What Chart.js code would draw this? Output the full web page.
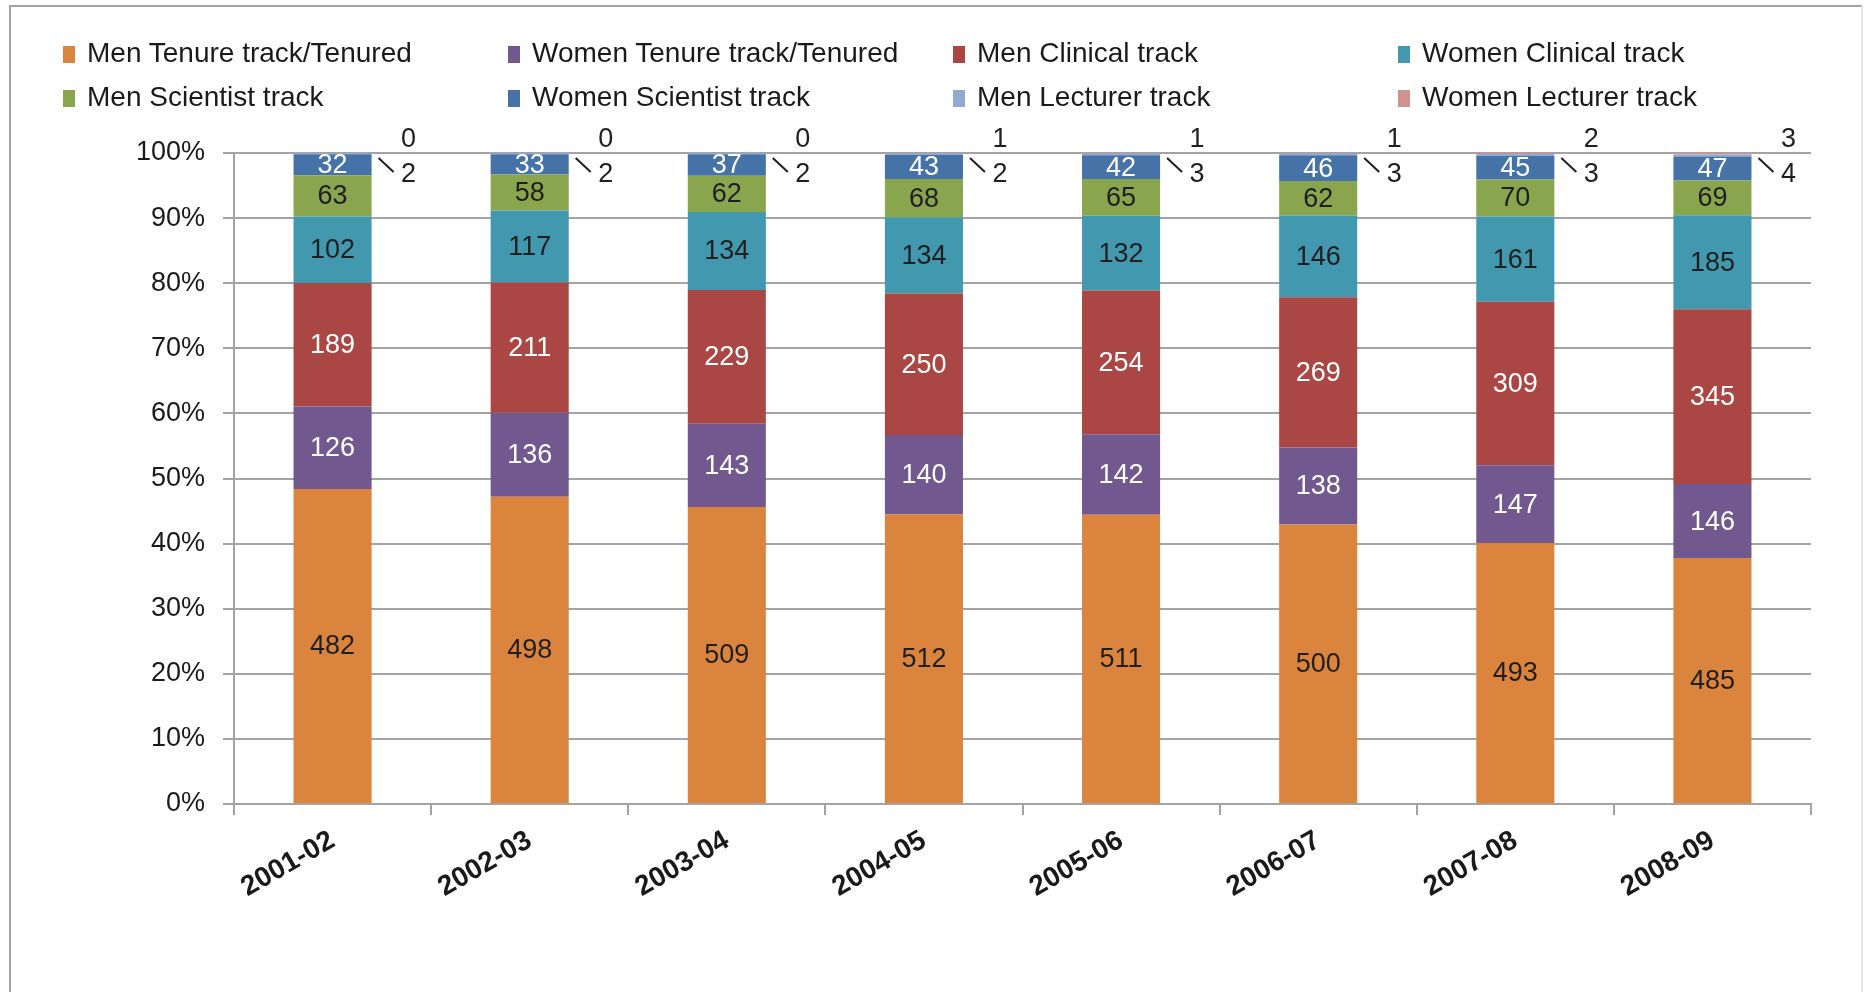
<!DOCTYPE html>
<html>
<head>
<meta charset="utf-8">
<script src="https://cdn.jsdelivr.net/npm/chart.js@4"></script>
<style>
  html, body { margin: 0; padding: 0; background: #fff; }
  #wrap { position: relative; width: 1864px; height: 992px; }
  #chart { position: absolute; left: 0; top: 0; }
  .lg { position: absolute; font-family: 'Liberation Sans', Arial, sans-serif; font-size: 28px; color: #1a1a1a; white-space: nowrap; line-height: 30px; }
  .lg span { display: inline-block; width: 12px; height: 17px; margin-right: 12px; vertical-align: -1px; }
</style>
</head>
<body>
<div id="wrap">
  <canvas id="chart" width="1864" height="992"></canvas>
  <div id="legend"></div>
</div>
<script>

const categories = ['2001-02', '2002-03', '2003-04', '2004-05', '2005-06', '2006-07', '2007-08', '2008-09'];

const menTenure      = [482, 498, 509, 512, 511, 500, 493, 485];
const womenTenure    = [126, 136, 143, 140, 142, 138, 147, 146];
const menClinical    = [189, 211, 229, 250, 254, 269, 309, 345];
const womenClinical  = [102, 117, 134, 134, 132, 146, 161, 185];
const menScientist   = [63, 58, 62, 68, 65, 62, 70, 69];
const womenScientist = [32, 33, 37, 43, 42, 46, 45, 47];
const menLecturer    = [2, 2, 2, 2, 3, 3, 3, 4];
const womenLecturer  = [0, 0, 0, 1, 1, 1, 2, 3];

const seriesNames = ['Men Tenure track/Tenured', 'Women Tenure track/Tenured', 'Men Clinical  track', 'Women Clinical  track',
  'Men Scientist track', 'Women Scientist  track', 'Men Lecturer track', 'Women Lecturer track'];
const seriesValues = [menTenure, womenTenure, menClinical, womenClinical, menScientist, womenScientist, menLecturer, womenLecturer];
const colors = ['#DB843D', '#71588F', '#AA4643', '#4198AF', '#89A54E', '#4572A7', '#93A9CF', '#D19392'];
const labelColors = ['#1f1f1f', '#ffffff', '#ffffff', '#1f1f1f', '#1f1f1f', '#ffffff', '#1f1f1f', '#1f1f1f'];

// totals per year, so the bars are 100% stacked
let totals = categories.map((c, j) => seriesValues.reduce((s, arr) => s + arr[j], 0));

let datasets = seriesValues.map((arr, i) => ({
  label: seriesNames[i],
  data: arr.map((v, j) => v / totals[j] * 100),
  counts: arr,
  backgroundColor: colors[i],
  borderWidth: 0,
  barPercentage: 0.396,
  categoryPercentage: 1
}));

// legend in 4 columns, 2 rows
let legendPos = [[63, 38], [508, 38], [953, 38], [1398, 38], [63, 82], [508, 82], [953, 82], [1398, 82]];
let legendBox = document.getElementById('legend');
seriesNames.forEach((name, i) => {
  let d = document.createElement('div');
  d.className = 'lg';
  d.style.left = legendPos[i][0] + 'px';
  d.style.top = legendPos[i][1] + 'px';
  d.innerHTML = '<span style="background:' + colors[i] + '"></span>' + name.replace(/  /g, ' ');
  legendBox.appendChild(d);
});

const framePlugin = {
  id: 'frame',
  beforeDraw(chart) {
    let ctx = chart.ctx;
    ctx.save();
    ctx.fillStyle = '#fff';
    ctx.fillRect(0, 0, chart.width, chart.height);
    ctx.strokeStyle = '#a3a3a3';
    ctx.lineWidth = 2;
    ctx.beginPath();
    ctx.moveTo(10, 1000);
    ctx.lineTo(10, 6);
    ctx.lineTo(1862, 6);
    ctx.stroke();
    ctx.strokeStyle = '#e6e6e6';
    ctx.beginPath();
    ctx.moveTo(1862, 6);
    ctx.lineTo(1862, 1000);
    ctx.stroke();
    ctx.restore();
  }
};

const valueLabels = {
  id: 'valueLabels',
  afterDatasetsDraw(chart) {
    let ctx = chart.ctx;
    let top = chart.scales.y.getPixelForValue(100);
    ctx.save();
    ctx.font = "27px 'Liberation Sans', Arial, sans-serif";
    ctx.textAlign = 'center';
    ctx.textBaseline = 'middle';
    chart.data.datasets.forEach((ds, i) => {
      let meta = chart.getDatasetMeta(i);
      meta.data.forEach((bar, j) => {
        let txt = String(ds.counts[j]);
        ctx.fillStyle = labelColors[i];
        if (i < 6) {
          ctx.fillText(txt, bar.x, (bar.y + bar.base) / 2 + 1);
        } else if (i === 6) {
          ctx.strokeStyle = '#1f1f1f';
          ctx.lineWidth = 2;
          ctx.beginPath();
          ctx.moveTo(bar.x + 46, top + 5);
          ctx.lineTo(bar.x + 61, top + 19);
          ctx.stroke();
          ctx.fillText(txt, bar.x + 76, top + 22);
        } else {
          ctx.fillText(txt, bar.x + 76, top - 13);
        }
      });
    });
    ctx.restore();
  }
};

Chart.defaults.font.family = "'Liberation Sans', Arial, sans-serif";
Chart.defaults.color = '#1a1a1a';

var chart = new Chart(document.getElementById('chart'), {
  type: 'bar',
  data: {
    labels: categories,
    datasets: datasets
  },
  options: {
    responsive: false,
    animation: false,
    layout: {
      padding: { top: 153, right: 53, left: 0, bottom: 0 }
    },
    plugins: {
      legend: { display: false },
      tooltip: { enabled: false }
    },
    scales: {
      x: {
        stacked: true,
        afterFit: function(scale) { scale.height = 188; },
        grid: {
          offset: true,
          drawOnChartArea: false,
          tickLength: 11,
          color: '#a3a3a3',
          lineWidth: 2
        },
        border: { color: '#a3a3a3', width: 2 },
        ticks: {
          minRotation: 30,
          maxRotation: 30,
          padding: 9,
          color: '#1a1a1a',
          font: { size: 28, weight: 'bold' }
        }
      },
      y: {
        stacked: true,
        min: 0,
        max: 100,
        afterFit: function(scale) { scale.width = 234; },
        grid: {
          tickLength: 11,
          color: '#a3a3a3',
          lineWidth: 2
        },
        border: { color: '#a3a3a3', width: 2 },
        ticks: {
          stepSize: 10,
          padding: 18,
          color: '#1a1a1a',
          font: { size: 27 },
          callback: function(value) { return value + '%'; }
        }
      }
    }
  },
  plugins: [framePlugin, valueLabels]
});

</script>
</body>
</html>
